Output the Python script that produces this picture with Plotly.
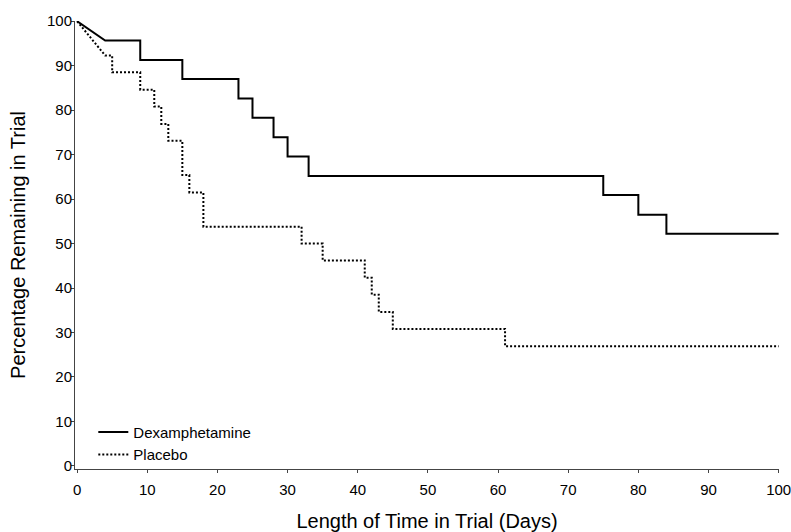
import plotly.graph_objects as go

# Kaplan-Meier style data: event days and percentage remaining after each event
dex_days = [0, 4, 9, 15, 23, 25, 28, 30, 33, 75, 80, 84]
dex_pct = [100, 95.65, 91.3, 87.0, 82.6, 78.3, 73.9, 69.6, 65.2, 60.9, 56.5, 52.2]
pla_days = [0, 4, 5, 9, 11, 12, 13, 15, 16, 18, 32, 35, 41, 42, 43, 45, 61]
pla_pct = [100, 92.3, 88.5, 84.6, 80.8, 76.9, 73.1, 65.4, 61.5, 53.8, 50.0, 46.2,
           42.3, 38.5, 34.6, 30.8, 26.9]
end_day = 100

x_ticks = list(range(0, 101, 10))
y_ticks = list(range(0, 101, 10))


def step_path(days, pct, end):
    # first segment drawn as a straight line, then horizontal-vertical steps
    xs = [days[0], days[1]]
    ys = [pct[0], pct[1]]
    for i in range(2, len(days)):
        xs += [days[i], days[i]]
        ys += [pct[i - 1], pct[i]]
    xs.append(end)
    ys.append(pct[-1])
    return xs, ys


dx, dy = step_path(dex_days, dex_pct, end_day)
px, py = step_path(pla_days, pla_pct, end_day)

fig = go.Figure()
fig.add_trace(go.Scatter(x=dx, y=dy, mode="lines", name="Dexamphetamine",
                         line=dict(color="black", width=2), cliponaxis=False))
fig.add_trace(go.Scatter(x=px, y=py, mode="lines", name="Placebo",
                         line=dict(color="black", width=2, dash="2px,2px"),
                         cliponaxis=False))

font = "Arial, Liberation Sans, sans-serif"
fig.update_layout(
    width=791, height=532,
    margin=dict(l=75, r=12, t=21, b=63),
    paper_bgcolor="white", plot_bgcolor="white",
    font=dict(family=font, color="black", size=15),
    showlegend=True,
    legend=dict(x=0.026, y=0.119, xanchor="left", yanchor="top",
                bgcolor="rgba(0,0,0,0)", font=dict(size=15, family=font),
                tracegroupgap=0, itemwidth=30),
    xaxis=dict(range=[-0.3, 100.05], tickvals=x_ticks, ticktext=[str(v) for v in x_ticks],
               showgrid=False, zeroline=False, showline=True, linecolor="#444",
               linewidth=1, ticks="outside", ticklen=3, tickcolor="#444",
               tickfont=dict(size=15), automargin=False, ticklabeloverflow="allow",
               ticklabelstandoff=4,
               title=dict(text="Length of Time in Trial (Days)", font=dict(size=20),
                          standoff=18)),
    yaxis=dict(range=[-0.7, 100.05], tickvals=y_ticks, ticktext=[str(v) for v in y_ticks],
               showgrid=False, zeroline=False, showline=True, linecolor="#444",
               linewidth=1, ticks="outside", ticklen=3, tickcolor="#444",
               tickfont=dict(size=15), automargin=False, ticklabeloverflow="allow",
               ticklabelstandoff=-4,
               title=dict(text="Percentage Remaining in Trial", font=dict(size=20))),
)

fig.write_html(
    "out.html",
    config={"displayModeBar": False},
    post_script="document.body.style.margin='0';document.body.style.overflow='hidden';",
)
